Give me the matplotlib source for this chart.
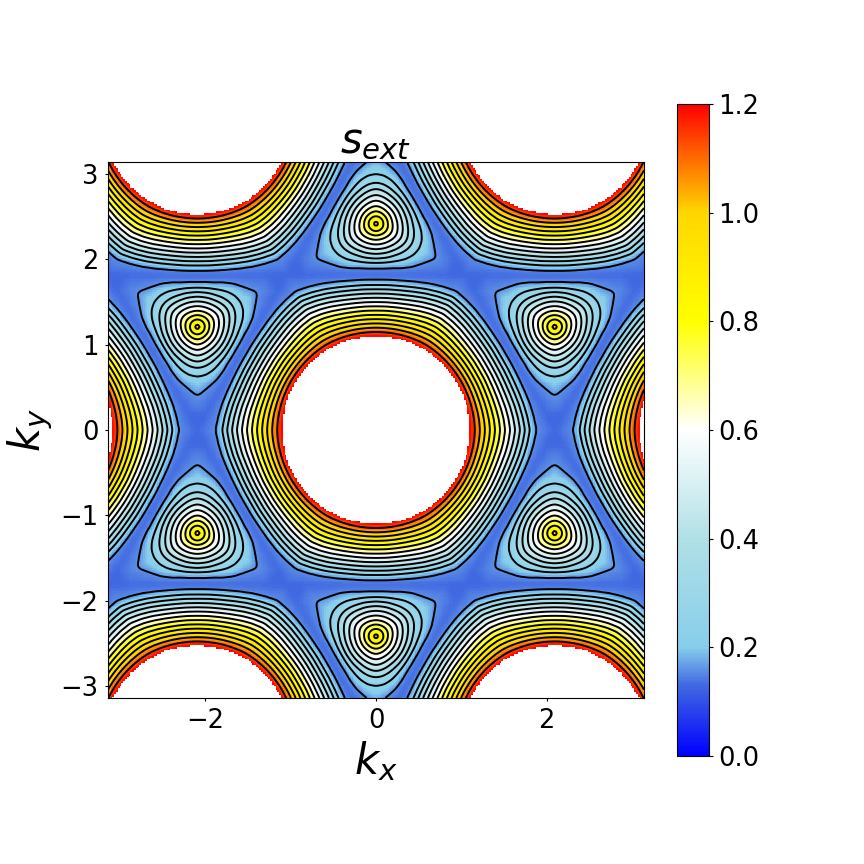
import numpy as np
import matplotlib
matplotlib.use("Agg")
import matplotlib.pyplot as plt
import matplotlib.tri as mtri
from matplotlib.colors import LinearSegmentedColormap

# ----------------------------
# DATA
# ----------------------------
# around a hole: radius reached by each s value, per direction (deg away from the saddle)
hole_s = [2.00, 1.20, 0.96, 0.72, 0.48, 0.24, 0.16, 0.13]
hole_angle = [0, 5, 10, 15, 20, 25, 30]
hole_r0 = [0.60, 1.10, 1.278, 1.456, 1.633, 1.805, 1.860, 2.090]
hole_r1 = [0.60, 1.10, 1.273, 1.446, 1.615, 1.782, 1.835, 1.997]
hole_r2 = [0.60, 1.10, 1.265, 1.430, 1.595, 1.757, 1.810, 1.926]
hole_r3 = [0.60, 1.10, 1.258, 1.416, 1.574, 1.732, 1.785, 1.874]
hole_r4 = [0.60, 1.10, 1.254, 1.407, 1.560, 1.714, 1.765, 1.838]
hole_r5 = [0.60, 1.10, 1.251, 1.403, 1.553, 1.705, 1.755, 1.817]
hole_r6 = [0.60, 1.10, 1.250, 1.400, 1.550, 1.700, 1.750, 1.810]

# around a triangle peak: radius per s value, per direction (deg away from the flat side)
peak_s = [0.80, 0.64, 0.48, 0.32, 0.24, 0.16, 0.13]
peak_angle = [0, 10, 20, 30, 40, 50, 60]
peak_r0 = [0.09, 0.190, 0.300, 0.410, 0.460, 0.51, 0.600]
peak_r1 = [0.09, 0.190, 0.300, 0.410, 0.465, 0.52, 0.609]
peak_r2 = [0.09, 0.190, 0.305, 0.420, 0.480, 0.54, 0.639]
peak_r3 = [0.09, 0.195, 0.310, 0.430, 0.505, 0.59, 0.693]
peak_r4 = [0.09, 0.200, 0.320, 0.450, 0.540, 0.65, 0.783]
peak_r5 = [0.09, 0.205, 0.330, 0.470, 0.570, 0.71, 0.933]
peak_r6 = [0.09, 0.210, 0.340, 0.480, 0.580, 0.80, 1.210]

hole_center_s = 3.0
peak_center_s = 0.94

# cell centres (kx, ky); peak_flat: direction of the flat side of the triangle
hole_kx = [0, 2.094, -2.094, 2.094, -2.094, 4.189, -4.189]
hole_ky = [0, 3.628, 3.628, -3.628, -3.628, 0, 0]
peak_kx = [2.094, -2.094, 2.094, -2.094, 0, 0, 4.189, -4.189, 4.189, -4.189]
peak_ky = [1.209, 1.209, -1.209, -1.209, 2.418, -2.418, 2.418, 2.418, -2.418, -2.418]
peak_flat = [90, 90, 270, 270, 270, 90, 270, 270, 90, 90]

cbar_ticks = [0.0, 0.2, 0.4, 0.6, 0.8, 1.0, 1.2]
y_ticks = [-3, -2, -1, 0, 1, 2, 3]
x_ticks = [-2, 0, 2]

# ----------------------------
# NODES: repeat the readings in every cell of the picture
# ----------------------------
hole_table = np.array([hole_r0, hole_r1, hole_r2, hole_r3, hole_r4, hole_r5, hole_r6])
peak_table = np.array([peak_r0, peak_r1, peak_r2, peak_r3, peak_r4, peak_r5, peak_r6])

xs, ys, vals = [], [], []

for cx, cy in zip(hole_kx, hole_ky):
    xs.append(cx); ys.append(cy); vals.append(hole_center_s)
    for n in range(6):
        for sign in (1, -1):
            for i, off in enumerate(hole_angle):
                a = np.radians(60 * n + sign * off)
                xs.extend(cx + hole_table[i] * np.cos(a))
                ys.extend(cy + hole_table[i] * np.sin(a))
                vals.extend(hole_s)

for cx, cy, flat in zip(peak_kx, peak_ky, peak_flat):
    xs.append(cx); ys.append(cy); vals.append(peak_center_s)
    for n in range(3):
        for sign in (1, -1):
            for i, off in enumerate(peak_angle):
                a = np.radians(flat + 120 * n + sign * off)
                xs.extend(cx + peak_table[i] * np.cos(a))
                ys.extend(cy + peak_table[i] * np.sin(a))
                vals.extend(peak_s)

pts = np.round(np.column_stack([xs, ys]), 3)
pts, idx = np.unique(pts, axis=0, return_index=True)
vals = np.array(vals)[idx]

tri = mtri.Triangulation(pts[:, 0], pts[:, 1])
interp = mtri.LinearTriInterpolator(tri, vals)

# sample a bit past the axes, soften the triangle facets, then crop
pad = 4
step = 2 * np.pi / 299
fine = -np.pi + step * np.arange(-pad, 300 + pad)
FX, FY = np.meshgrid(fine, fine)
S = np.asarray(interp(FX, FY).filled(0.13))
kernel = np.array([1, 2, 3, 2, 1]) / 9
S = np.apply_along_axis(lambda v: np.convolve(v, kernel, mode="same"), 0, S)
S = np.apply_along_axis(lambda v: np.convolve(v, kernel, mode="same"), 1, S)
FX, FY, S = FX[pad:-pad, pad:-pad], FY[pad:-pad, pad:-pad], S[pad:-pad, pad:-pad]

# ----------------------------
# COLORS
# ----------------------------
cmap = LinearSegmentedColormap.from_list("s_ext", [
    (0.0, "blue"),
    (0.13 / 1.2, "royalblue"),
    (0.2 / 1.2, "skyblue"),
    (0.4 / 1.2, "powderblue"),
    (0.5, "white"),
    (0.8 / 1.2, "yellow"),
    (1.0 / 1.2, "gold"),
    (1.0, "red"),
], N=512)
cmap.set_over("white")

# ----------------------------
# PLOT
# ----------------------------
fig = plt.figure(figsize=(8.64, 8.64), dpi=100)
ax = fig.add_axes([108 / 864, 1 - 698 / 864, 536 / 864, 536 / 864])
mesh = ax.pcolormesh(FX, FY, S, cmap=cmap, vmin=0, vmax=1.2, shading="nearest")
levels = np.linspace(0, 1.2, 16)[1:-1]
ax.contour(FX, FY, S, levels=levels, colors="black", linewidths=1.4)

ax.set_xlim(-np.pi, np.pi)
ax.set_ylim(-np.pi, np.pi)
ax.set_xticks(x_ticks)
ax.set_yticks(y_ticks)
ax.tick_params(labelsize=18.5, length=2.5, pad=4.5)
ax.set_xlabel(r"$k_x$", fontsize=30)
ax.set_ylabel(r"$k_y$", fontsize=30)
ax.set_title(r"$s_{ext}$", fontsize=30)

cax = fig.add_axes([677 / 864, 1 - 756 / 864, 32 / 864, 652 / 864])
cb = fig.colorbar(mesh, cax=cax)
cb.set_ticks(cbar_ticks)
cb.ax.tick_params(labelsize=18.5, length=3)

fig.savefig("out.png", dpi=100)
